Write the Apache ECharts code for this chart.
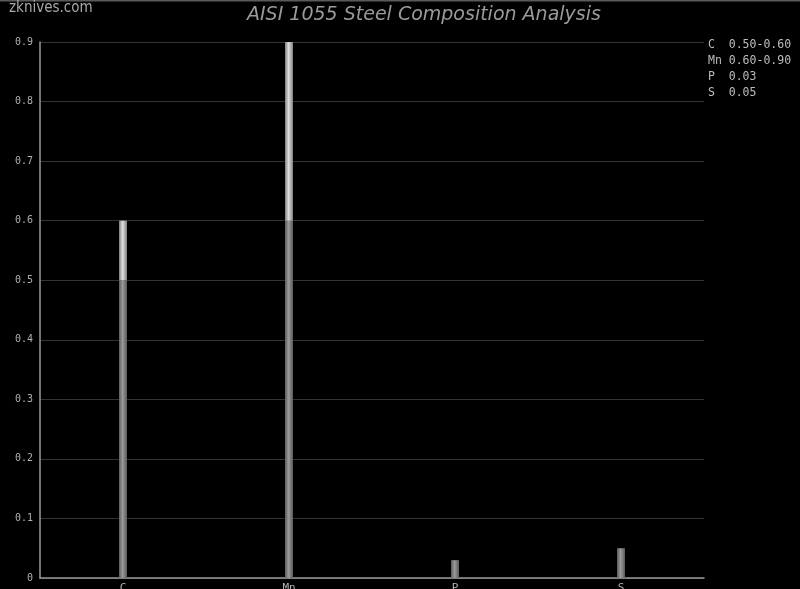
<!DOCTYPE html>
<html>
<head>
<meta charset="utf-8">
<script src="https://cdn.jsdelivr.net/npm/echarts@6/dist/echarts.min.js"></script>
<style>
html,body{margin:0;padding:0;background:#000;}
#chart{width:800px;height:589px;}
</style>
</head>
<body>
<div id="chart"></div>
<script>
const categories = ["C", "Mn", "P", "S"];
const minValues = [0.50, 0.60, 0.03, 0.05];
const maxValues = [0.60, 0.90, 0.03, 0.05];
const rangeLabels = ["0.50-0.60", "0.60-0.90", "0.03", "0.05"];
const yTicks = [0, 0.1, 0.2, 0.3, 0.4, 0.5, 0.6, 0.7, 0.8, 0.9];

const rangeValues = maxValues.map((v, i) => +(v - minValues[i]).toFixed(4));

const chart = echarts.init(document.getElementById('chart'), null, {renderer: 'canvas'});

const darkGrad = new echarts.graphic.LinearGradient(0, 0, 1, 0, [
  {offset: 0, color: '#5c5c5c'},
  {offset: 0.45, color: '#9a9a9a'},
  {offset: 1, color: '#5a5a5a'}
]);
const lightGrad = new echarts.graphic.LinearGradient(0, 0, 1, 0, [
  {offset: 0, color: '#7e7e7e'},
  {offset: 0.45, color: '#dedede'},
  {offset: 1, color: '#808080'}
]);

const legendGraphics = categories.map((c, i) => ({
  type: 'text',
  left: 708,
  top: 39 + i * 16,
  style: {
    text: (c + '   ').slice(0, 3) + rangeLabels[i],
    fill: '#bdbdbd',
    font: '11.5px "DejaVu Sans Mono", monospace'
  }
}));

chart.setOption({
  backgroundColor: '#000',
  animation: false,
  title: {
    text: 'AISI 1055 Steel Composition Analysis',
    left: 242,
    top: 1,
    textStyle: {
      color: '#9a9a9a',
      fontSize: 19,
      fontStyle: 'italic',
      fontWeight: 'normal',
      fontFamily: 'DejaVu Sans'
    }
  },
  graphic: [
    {
      type: 'line',
      shape: {x1: 0, y1: 0.5, x2: 800, y2: 0.5},
      style: {stroke: '#5a5a5a', lineWidth: 2}
    },
    {
      type: 'text',
      left: 9,
      top: 1,
      style: {
        text: 'zknives.com',
        fill: '#a8a8a8',
        font: '15px "DejaVu Sans Condensed", "DejaVu Sans", sans-serif'
      }
    }
  ].concat(legendGraphics),
  grid: {left: 40, right: 96, top: 42, bottom: 11, containLabel: false, outerBoundsMode: 'none'},
  xAxis: {
    type: 'category',
    data: categories,
    axisLine: {show: true, lineStyle: {color: '#9a9a9a', width: 1.5}},
    axisTick: {show: false},
    axisLabel: {
      color: '#b0b0b0',
      fontFamily: '"DejaVu Sans Mono", monospace',
      fontSize: 11,
      margin: 5
    },
    splitLine: {show: false}
  },
  yAxis: {
    type: 'value',
    min: 0,
    max: 0.9,
    interval: 0.1,
    axisLine: {show: true, lineStyle: {color: '#9a9a9a', width: 1.5}},
    axisTick: {show: false},
    axisLabel: {
      color: '#b0b0b0',
      fontFamily: '"DejaVu Sans Mono", monospace',
      fontSize: 10,
      margin: 7,
      formatter: v => {
        const t = yTicks.find(x => Math.abs(x - v) < 1e-9);
        const val = t === undefined ? v : t;
        return val === 0 ? '0' : val.toFixed(1);
      }
    },
    splitLine: {show: true, lineStyle: {color: '#333', width: 1}}
  },
  series: [
    {
      type: 'bar',
      stack: 'comp',
      data: minValues,
      barWidth: 8,
      itemStyle: {color: darkGrad}
    },
    {
      type: 'bar',
      stack: 'comp',
      data: rangeValues,
      barWidth: 8,
      itemStyle: {color: lightGrad}
    }
  ]
});
</script>
</body>
</html>
